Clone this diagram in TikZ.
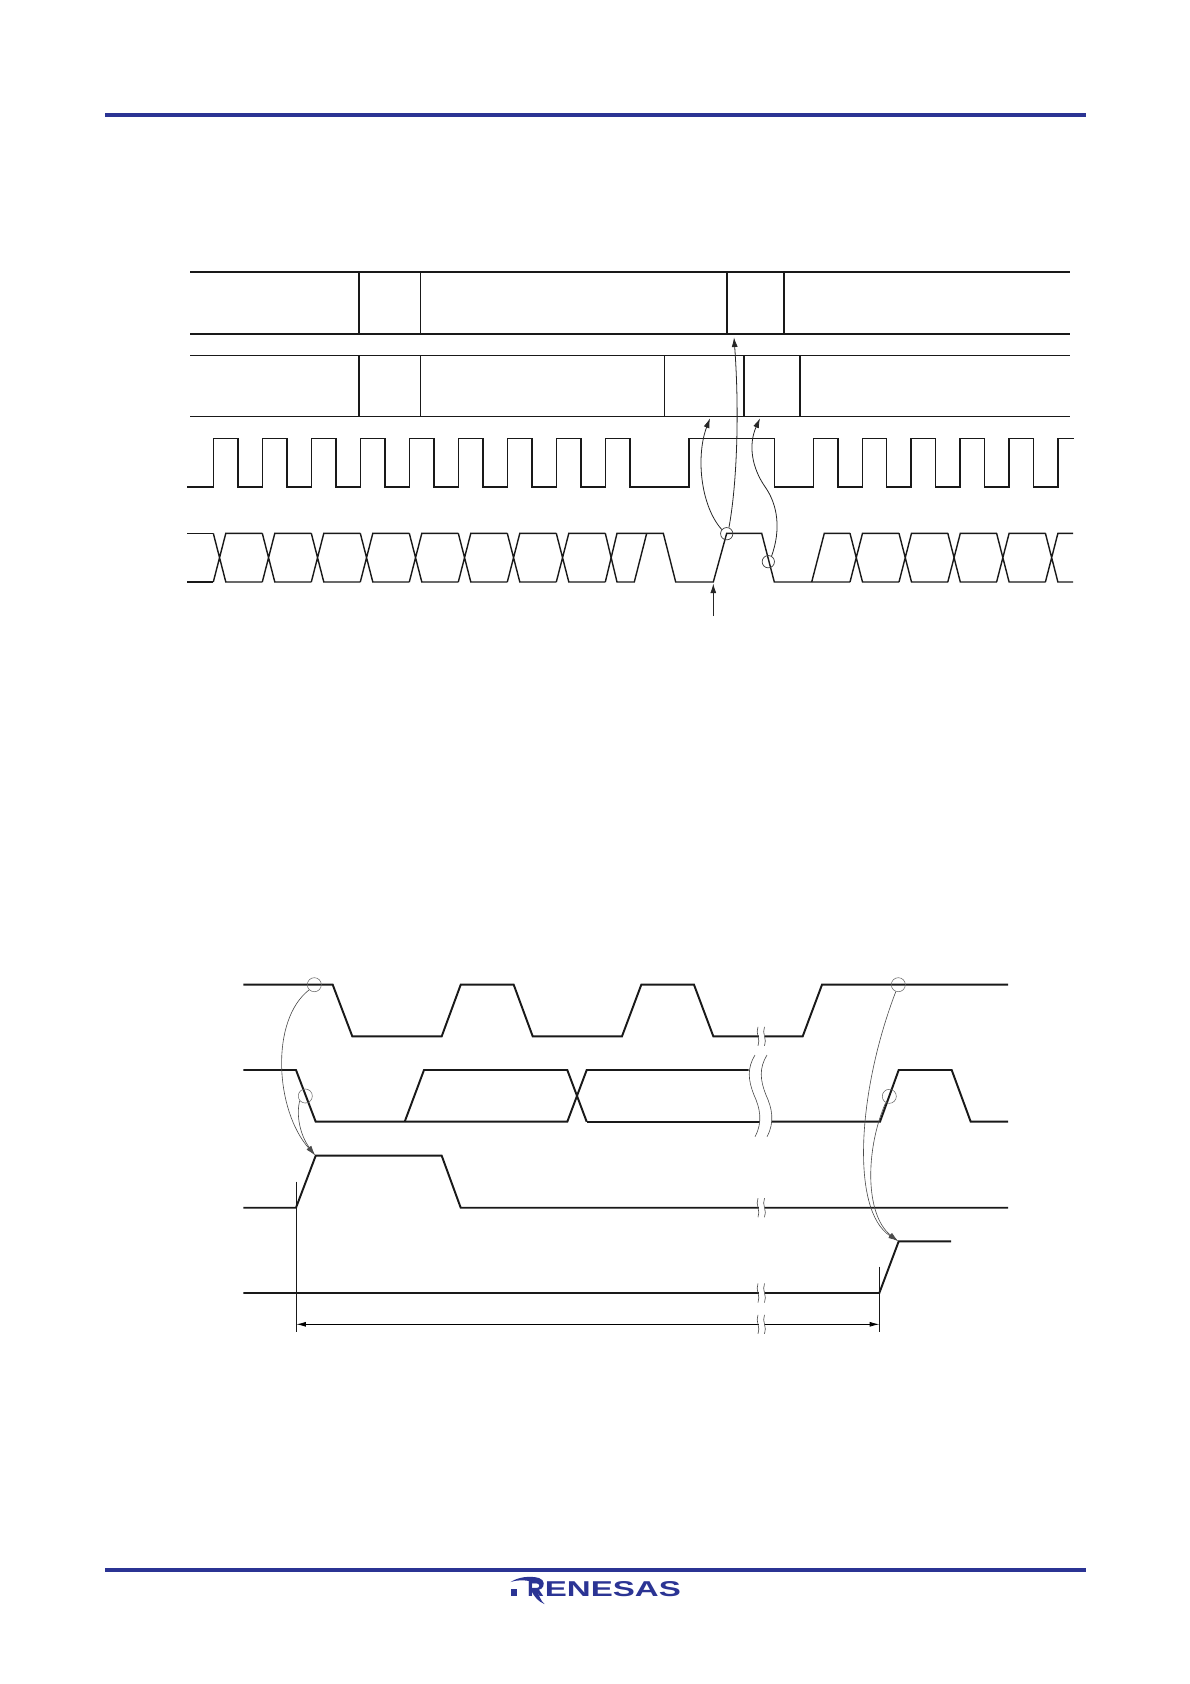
\documentclass[tikz,border=0pt]{standalone}
\usepackage{fontspec}
\usepackage{xcolor}
\usepackage{graphicx}
\usetikzlibrary{arrows.meta}
\definecolor{renesasblue}{RGB}{43,52,148}
\begin{document}
\begin{tikzpicture}[x=0.02cm, y=-0.02cm]
    \tikzstyle{heavy} = [line width=1.1pt, draw=black!90, line join=miter]
    \tikzstyle{light} = [line width=0.6pt, draw=black!90]
    \tikzstyle{wave} = [line width=0.8pt, draw=black!90, line join=miter]
    \tikzstyle{probe} = [circle, draw=black!75, line width=0.4pt, inner sep=0pt, minimum size=7pt]
    \tikzstyle{probewide} = [circle, draw=black!60, line width=0.3pt, inner sep=0pt, minimum size=8pt]
    \tikzstyle{follow} = [-{Latex[length=5.5pt, width=3.4pt]}, line width=0.45pt, draw=black!85]
    \tikzstyle{followwide} = [-{Latex[length=5.5pt, width=3pt]}, line width=0.35pt, draw=black!70]
    \tikzstyle{gapline} = [line width=0.35pt, draw=black!70]
    \tikzstyle{span} = [{Latex[length=5.5pt, width=2.8pt]}-{Latex[length=5.5pt, width=2.8pt]}, line width=0.45pt, draw=black]
    \useasboundingbox (0, 0) rectangle (1190, 1684);
    \fill[white] (0, 0) rectangle (1190, 1684);

    \draw[line width=2pt, draw=renesasblue] (105, 115) -- (1086, 115);
    \draw[line width=2pt, draw=renesasblue] (105, 1570) -- (1086, 1570);
    \node[anchor=north west, inner sep=0pt, text=renesasblue] (logo) at (527, 1581) {\setmainfont{Liberation Sans}\bfseries\resizebox{0.33cm}{0.3cm}{R}\hspace{0.02cm}\resizebox{2.72cm}{0.3cm}{ENESAS}};
    \fill[renesasblue] (510.7, 1589.3) rectangle (517.3, 1596);
    \fill[renesasblue] (510.7, 1582) .. controls (518, 1577) and (530, 1575.5) .. (539, 1578) .. controls (545, 1580) and (545, 1586) .. (541, 1589) .. controls (541, 1585) and (537, 1581.5) .. (530, 1581) .. controls (523, 1580) and (516, 1580) .. (510.7, 1582);
    \fill[renesasblue] (531, 1590) -- (537, 1590) .. controls (539, 1596) and (541, 1601) .. (544.5, 1604) .. controls (539, 1602) and (534, 1597) .. (531, 1590);

    \draw[heavy] (190, 271.7) -- (1070, 271.7);
    \draw[heavy] (190, 333.7) -- (1070, 333.7);
    \draw[heavy] (359, 271.7) -- (359, 333.7);
    \draw[light] (420.3, 271.7) -- (420.3, 333.7);
    \draw[heavy] (727, 271.7) -- (727, 333.7);
    \draw[heavy] (784, 271.7) -- (784, 333.7);
    \draw[light] (190, 355.3) -- (1070, 355.3);
    \draw[light] (190, 416.5) -- (1070, 416.5);
    \draw[heavy] (359, 355.3) -- (359, 416.5);
    \draw[light] (420.3, 355.3) -- (420.3, 416.5);
    \draw[light] (664.3, 355.3) -- (664.3, 416.5);
    \draw[heavy] (744, 355.3) -- (744, 416.5);
    \draw[heavy] (800, 355.3) -- (800, 416.5);

    \draw[wave] (187, 487) foreach \x in {213.3, 262.3, 311.3, 360.3, 409.3, 458.3, 507.3, 556.3, 605.3} { -- (\x, 487) -- (\x, 438.3) -- (\x+24.5, 438.3) -- (\x+24.5, 487) } -- (689, 487) -- (689, 438.3) -- (774.3, 438.3) -- (774.3, 487) foreach \x in {813.3, 862.2, 911.1, 960, 1008.9} { -- (\x, 487) -- (\x, 438.3) -- (\x+24.5, 438.3) -- (\x+24.5, 487) } -- (1057.8, 487) -- (1057.8, 438.3) -- (1074, 438.3);

    \foreach \x in {213.3, 262.3, 311.3, 360.3, 409.3, 458.3, 507.3, 556.3, 850, 899, 947.8, 996.6}
        \draw[wave] (\x, 533.3) -- (\x+12.5, 582) -- (\x+49, 582) (\x, 582) -- (\x+12.5, 533.3) -- (\x+49, 533.3);
    \draw[wave] (187, 533.3) -- (213.3, 533.3) (187, 582) -- (213.3, 582);
    \draw[wave] (605.3, 533.3) -- (617, 582) -- (634.3, 582) -- (646.7, 533.3);
    \draw[wave] (605.3, 582) -- (617, 533.3) -- (663.3, 533.3) -- (675.7, 582) -- (713.3, 582) -- (726.7, 533.3) -- (761.7, 533.3) -- (774.3, 582) -- (850, 582);
    \draw[wave] (811.7, 582) -- (824.3, 533.3) -- (850, 533.3);
    \draw[wave] (1045.4, 533.3) -- (1057.9, 582) -- (1073, 582) (1045.4, 582) -- (1057.9, 533.3) -- (1073, 533.3);

    \node[probe] (rise) at (726.7, 533.7) {};
    \node[probe] (fall) at (768.3, 561.7) {};
    \coordinate (starttip) at (713.3, 583.5);
    \coordinate (starttail) at (713.3, 616);
    \coordinate (lowertip) at (710, 418.3);
    \coordinate (uppertip) at (734, 337.3);
    \coordinate (endtip) at (760, 418.3);
    \draw[follow] (starttail) -- (starttip);
    \draw[follow] (rise.140) .. controls (700, 505) and (696, 455) .. (lowertip);
    \draw[follow] (rise.70) .. controls (736, 490) and (740, 420) .. (uppertip);
    \draw[follow] (fall.60) .. controls (781, 530) and (778, 505) .. (765, 486.7) .. controls (752, 468) and (748, 445) .. (endtip);

    \draw[heavy] (243.3, 984.7) -- (332.7, 984.7) -- (352.3, 1036.3) -- (441.7, 1036.3) -- (460.7, 984.7) -- (513.7, 984.7) -- (532.7, 1036.3) -- (622, 1036.3) -- (641.3, 984.7) -- (694, 984.7) -- (713.3, 1036.3) -- (802.7, 1036.3) -- (822, 984.7) -- (1008, 984.7);
    \draw[heavy] (243.3, 1070) -- (296, 1070) -- (315.7, 1121.7) -- (567.3, 1121.7) -- (586.7, 1070) -- (748.5, 1070);
    \draw[heavy] (586.7, 1121.7) -- (759.5, 1121.7);
    \draw[heavy] (771.5, 1121.7) -- (880, 1121.7) -- (898.7, 1070) -- (951.7, 1070) -- (970.7, 1121.7) -- (1008, 1121.7);
    \draw[heavy] (404.7, 1121.7) -- (424, 1070) -- (567.3, 1070) -- (586.7, 1121.7);
    \draw[heavy] (243.3, 1207.7) -- (296, 1207.7) -- (315.7, 1155.7) -- (441.7, 1155.7) -- (460.7, 1207.7) -- (1008, 1207.7);
    \draw[heavy] (243.3, 1293) -- (879.3, 1293) -- (898.7, 1241.3) -- (951, 1241.3);

    \coordinate (spanleftend) at (296.3, 1331.7);
    \coordinate (spanrightend) at (879.3, 1331.7);
    \coordinate (spanleft) at (296.3, 1324.3);
    \coordinate (spanright) at (879.3, 1324.3);
    \draw[light] (296.3, 1181.7) -- (spanleftend);
    \draw[light] (879.3, 1266.7) -- (spanrightend);
    \draw[span] (spanleft) -- (spanright);

    \foreach \y in {1036.3, 1207.7, 1293, 1324.3} {
        \fill[white] (758.5, \y-4) rectangle (764.5, \y+4);
        \draw[gapline] (758, \y-9.5) .. controls (755, \y-3) and (761, \y+3) .. (758, \y+9.5);
        \draw[gapline] (764.5, \y-9.5) .. controls (761.5, \y-3) and (767.5, \y+3) .. (764.5, \y+9.5);
    }
    \foreach \d in {0, 12}
        \draw[gapline] (755+\d, 1055) .. controls (747+\d, 1068) and (748+\d, 1080) .. (754+\d, 1095) .. controls (760+\d, 1108) and (763+\d, 1122) .. (755+\d, 1136.7);

    \node[probewide] (sclhigh) at (314.3, 984.7) {};
    \node[probewide] (sdafall) at (305.3, 1096) {};
    \node[probewide] (sclstop) at (898.3, 984.7) {};
    \node[probewide] (sdarise) at (889.3, 1096.3) {};
    \coordinate (starttop) at (315, 1155.2);
    \coordinate (stoptop) at (898, 1241);
    \draw[followwide] (sclhigh.225) .. controls (270, 1020) and (275, 1110) .. (starttop);
    \draw[followwide] (sdafall.220) .. controls (296, 1115) and (300, 1135) .. (starttop);
    \draw[followwide] (sclstop.250) .. controls (858, 1090) and (850, 1210) .. (stoptop);
    \draw[followwide] (sdarise.240) .. controls (865, 1150) and (865, 1215) .. (stoptop);
\end{tikzpicture}
\end{document}
